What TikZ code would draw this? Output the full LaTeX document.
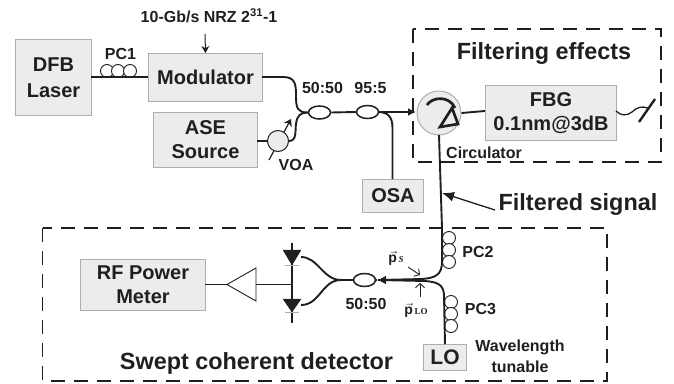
\documentclass[tikz,border=0pt]{standalone}
\usepackage{fontspec}
\setmainfont{Liberation Sans}
\newfontfamily\serifx{Liberation Serif}
\usetikzlibrary{arrows.meta,shapes.geometric}
\definecolor{boxfill}{gray}{0.925}
\definecolor{boxline}{gray}{0.68}
\definecolor{ink}{gray}{0.12}
\tikzset{
 boxn/.style={draw=boxline,line width=1pt,fill=boxfill,text=ink,font=\bfseries\fontsize{20}{24}\selectfont,align=center,inner sep=0pt,anchor=north west},
 lab/.style={text=ink,font=\bfseries\fontsize{16}{18}\selectfont,align=center,inner sep=0pt},
 big/.style={text=ink,font=\bfseries\fontsize{23.4}{27}\selectfont,inner sep=0pt},
 fiber/.style={draw=ink,line width=1.9pt},
 thin/.style={draw=ink,line width=1pt},
 dashbox/.style={draw=ink,line width=1.6pt,dash pattern=on 14pt off 9pt},
 cpl/.style={draw=ink,line width=1.5pt,fill=white,ellipse,minimum width=22pt,minimum height=13pt,inner sep=0pt},
 loopc/.style={draw=ink,line width=0.9pt,fill=white,circle,minimum size=13pt,inner sep=0pt},
}
\begin{document}
\begin{tikzpicture}[x=1pt,y=-1pt]
\useasboundingbox (0,0) rectangle (674,383);
% dashed boxes
\coordinate (fa) at (413,29); \coordinate (fb) at (661,162);
\coordinate (da) at (42.5,228); \coordinate (db) at (607,381);
\draw[dashbox] (fa) rectangle (fb);
\draw[dashbox] (da) rectangle (db);
% boxes
\node[boxn,minimum width=76pt,minimum height=76pt,font=\bfseries\fontsize{20}{26}\selectfont] (dfb) at (15,39) {DFB\\Laser};
\node[boxn,minimum width=114pt,minimum height=48pt] (mod) at (148,53) {Modulator};
\node[boxn,minimum width=104pt,minimum height=55pt] (ase) at (153,112) {ASE\\Source};
\node[boxn,minimum width=61pt,minimum height=33pt] (osa) at (362,179) {OSA};
\node[boxn,minimum width=131pt,minimum height=55pt] (fbg) at (485,85) {FBG\\0.1nm@3dB};
\node[boxn,minimum width=43pt,minimum height=26pt,font=\bfseries\fontsize{21}{24}\selectfont] (lo) at (423,344) {LO};
\node[boxn,minimum width=125pt,minimum height=51pt] (rf) at (80,259) {RF Power\\Meter};
% PC loops
\foreach \n/\y in {a/238,b/250,c/262} \node[loopc] (pc2\n) at (449,\y) {};
\foreach \n/\y in {a/302,b/314,c/326} \node[loopc] (pc3\n) at (451,\y) {};
\foreach \n/\x in {a/107,b/118,c/130} \node[loopc] (pc1\n) at (\x,71) {};
% couplers and devices
\node[cpl] (c1) at (319.5,112.5) {};
\node[cpl] (c2) at (367.5,112) {};
\node[cpl] (c3) at (364.5,280) {};
\coordinate (vb) at (269,160); \coordinate (vt) at (291,119);
\draw[thin,line width=1.2pt,-{Stealth[length=7pt,width=9pt]}] (vb) -- (vt);
\node[draw=ink,line width=1pt,fill=boxfill,circle,minimum size=21pt,inner sep=0pt] (voa) at (278,141) {};
\node[draw=boxline,line width=1pt,fill=boxfill,circle,minimum size=44pt,inner sep=0pt] (circ) at (439,113) {};
% fibers top
\draw[fiber] (91,77) -- (148,77);
\draw[fiber] (262,77) -- (283,77) .. controls (295,77) and (296,84) .. (296,95) .. controls (296,108) and (297,112.5) .. (c1.west);
\draw[fiber] (257,141) -- (voa.west);
\draw[fiber] (voa.east) .. controls (297,141) and (295,131) .. (296,124) .. controls (297,115) and (301,112.5) .. (c1.west);
\draw[fiber] (c1.east) -- (c2.west);
\draw[fiber,-{Latex[length=8pt,width=8pt]}] (c2.east) -- (416,112);
\draw[fiber] (378,112) .. controls (388,112) and (392.5,117) .. (392.5,128) -- (392.5,179);
\draw[fiber] (circ.east) -- (485,111);
% circulator symbol
\draw[draw=ink,line width=2.7pt] (427,105) .. controls (432,97) and (449,95) .. (455,108);
\draw[draw=ink,line width=2.7pt,fill=boxfill] (452,108) -- (458,124) -- (440,127) -- cycle;
% FBG end
\coordinate (endA) at (616,111);
\coordinate (endB) at (648,108);
\draw[thin,line width=1.3pt] (endA) .. controls (621,116) and (627,116) .. (632,112) .. controls (637,107) and (642,106) .. (endB);
\draw[draw=ink,line width=2.4pt] (639,122) -- (655,99);
% main vertical
\draw[fiber] (439,135) -- (442,228) -- (442,262) .. controls (442,275) and (435,278) .. (422,279) -- (378,280);
\draw[fiber] (lo.north) -- (444,296) .. controls (444,285) and (438,282) .. (425,281) -- (378,280);
\draw[fiber,-{Latex[length=9pt,width=9pt]}] (400,280) -- (377,280);
\draw[fiber] (377,280) -- (c3.east);
% modulator arrow
\coordinate (mt) at (205,34);
\draw[thin,-{Stealth[length=7pt,width=8pt]}] (mt) -- (mod.north);
% filtered signal arrow
\node[big,anchor=center] (fs) at (578,204) {Filtered signal};
\coordinate (fq) at (495,210);
\draw[thin,line width=1.3pt,-{Latex[length=12pt,width=10pt]}] (fq) -- (442,193);
% detector
\coordinate (pdt) at (292,243); \coordinate (pdb) at (292,323);
\draw[thin,line width=1.2pt] (pdt) -- (pdb);
\draw[fill=ink,draw=ink] (283,250) -- (301,250) -- (292,265) -- cycle;
\draw[fill=ink,draw=ink] (283,299) -- (301,299) -- (292,312) -- cycle;
\draw[boxline,line width=1pt] (285,265) -- (299,265) (285,312) -- (299,312);
\draw[fiber] (301,257) .. controls (318,257) and (323,280) .. (341,280) -- (c3.west);
\draw[fiber] (301,305) .. controls (320,305) and (322,280) .. (341,280);
% amp
\coordinate (ampa) at (227,284.5); \coordinate (ampb) at (256,268); \coordinate (ampc) at (256,301); \coordinate (ampm) at (256,284.5);
\draw[draw=ink,line width=0.9pt,fill=white] (ampa) -- (ampb) -- (ampc) -- cycle;
\draw[thin] (ampm) -- (292,284.5);
\draw[thin] (205,284.5) -- (ampa);
% pointers
\draw[draw=ink,line width=0.9pt,-{Straight Barb[length=4pt,width=9pt]}] (408,267) -- (420,275);
\draw[draw=ink,line width=0.9pt,-{Straight Barb[length=4pt,width=9pt]}] (420,297) -- (420,283);
% labels
\node[lab] (l1) at (209,16) {10-Gb/s NRZ 2\textsuperscript{31}-1};
\node[lab] (l2) at (120.5,54) {PC1};
\node[lab] (l3) at (296,165) {VOA};
\node[lab] (l4) at (322.5,88) {50:50};
\node[lab] (l5) at (370.5,88) {95:5};
\node[big,anchor=center] (l6) at (544,53) {Filtering effects};
\node[lab,anchor=west] (l7) at (446,153) {Circulator};
\node[lab] (l8) at (478,252) {PC2};
\node[lab] (l9) at (480.5,309) {PC3};
\node[lab] (l10) at (366,304) {50:50};
\node[lab] (l11) at (520,347) {Wavelength};
\node[lab] (l12) at (520,367) {tunable};
\node[big] (l13) at (256.5,363) {Swept coherent detector};
\node[text=ink,font=\serifx\bfseries\fontsize{14}{16}\selectfont,inner sep=0pt] (l14) at (396,258) {$\vec{\mathbf{p}}$\fontsize{9}{10}\selectfont\itshape\,S};
\node[text=ink,font=\serifx\bfseries\fontsize{14}{16}\selectfont,inner sep=0pt] (l15) at (416,310) {$\vec{\mathbf{p}}$\fontsize{9}{10}\selectfont\,LO};
\end{tikzpicture}
\end{document}
